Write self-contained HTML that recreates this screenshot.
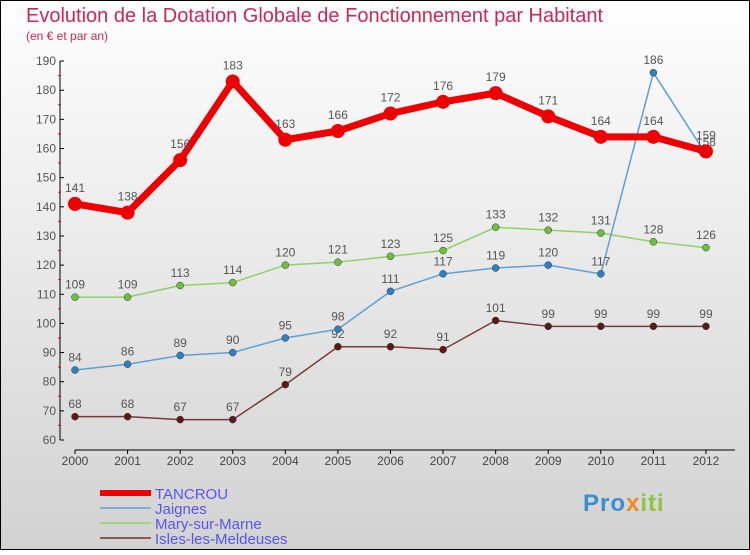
<!DOCTYPE html>
<html><head><meta charset="utf-8"><style>
body{margin:0;width:750px;height:550px;overflow:hidden}
svg text{font-family:"Liberation Sans",sans-serif}
</style></head><body>
<svg width="750" height="550" xmlns="http://www.w3.org/2000/svg">
<defs><linearGradient id="bg" x1="0" y1="0" x2="0" y2="1"><stop offset="0" stop-color="#fefefe"/><stop offset="1" stop-color="#d2d2d2"/></linearGradient></defs>
<rect x="0.5" y="0.5" width="749" height="549" fill="url(#bg)" stroke="#000"/>
<text x="26" y="22" font-size="20" fill="#c8285a">Evolution de la Dotation Globale de Fonctionnement par Habitant</text>
<text x="26" y="40" font-size="12" fill="#c8285a">(en € et par an)</text>
<g id="axes"></g><g id="series"></g><g id="legend"></g>
</svg>
<script>
const years=[2000,2001,2002,2003,2004,2005,2006,2007,2008,2009,2010,2011,2012];
const yTicks=[60,70,80,90,100,110,120,130,140,150,160,170,180,190];
const tancrou=[141,138,156,183,163,166,172,176,179,171,164,164,159];
const jaignes=[84,86,89,90,95,98,111,117,119,120,117,186,158];
const mary=[109,109,113,114,120,121,123,125,133,132,131,128,126];
const isles=[68,68,67,67,79,92,92,91,101,99,99,99,99];
const NS="http://www.w3.org/2000/svg";
const X=i=>75+i*52.58;
const Y=v=>440-(v-60)*29.15/10;
function mk(tag,attrs,parent,text){const e=document.createElementNS(NS,tag);for(const k in attrs)e.setAttribute(k,attrs[k]);if(text!==undefined)e.textContent=text;parent.appendChild(e);return e;}
const ax=document.getElementById('axes');
let e=mk('line',{x1:60,y1:Y(190),x2:60,y2:Y(60),stroke:'#000'},ax);


e=mk('line',{x1:75,y1:450,x2:735,y2:450,stroke:'#000'},ax);


yTicks.forEach(v=>{
 mk('line',{x1:60,y1:Y(v),x2:64,y2:Y(v),stroke:'#000'},ax);
 if(v<190) mk('line',{x1:58,y1:Y(v+5),x2:61,y2:Y(v+5),stroke:'#e00'},ax);
 const t=mk('text',{x:56,y:Y(v)+4,'font-size':12,fill:'#555','text-anchor':'end'},ax,v);
 
 
});
years.forEach((yr,i)=>{
 mk('line',{x1:X(i),y1:450,x2:X(i),y2:454,stroke:'#000'},ax);
 const t=mk('text',{x:X(i),y:465,'font-size':12,fill:'#444','text-anchor':'middle'},ax,yr);
 
 
});
const sg=document.getElementById('series');
function series(vals,name,color,dot,w,r,labelBelow){
 const g=mk('g',{},sg);
 
 
 mk('polyline',{points:vals.map((v,i)=>X(i)+','+Y(v)).join(' '),fill:'none',stroke:color,'stroke-width':w,'stroke-linejoin':'round'},g);
 vals.forEach((v,i)=>{
  const c=mk('circle',{cx:X(i),cy:Y(v),r:r,fill:dot,stroke:dot==='#e00'?'none':'#333','stroke-width':0.5},g);
  
  
  const t=mk('text',{x:X(i),y:Y(v)-(r+5),'font-size':12,fill:'#555','text-anchor':'middle'},g,v);
  
  
 });
}
series(isles,'isles','#7a3a3a','#5a1a1a',1.5,3.5);
series(mary,'mary','#8fd06a','#6cc040',1.5,3.5);
series(jaignes,'jaignes','#5ea0d0','#3080c0',1.5,3.5);
series(tancrou,'tancrou','#e00','#e00',7,7);
const lg=document.getElementById('legend');
const leg=[['TANCROU','#e00',6],['Jaignes','#7fb0d8',2],['Mary-sur-Marne','#9bd67a',2],['Isles-les-Meldeuses','#8a5a5a',2]];
leg.forEach((l,i)=>{
 const y=493+i*15;
 const g=mk('g',{},lg);
 
 
 mk('line',{x1:100,y1:y,x2:151,y2:y,stroke:l[1],'stroke-width':l[2]},g);
 mk('text',{x:155,y:y+6,'font-size':15,fill:'#5555ee'},g,l[0]);
});
</script>
<div style="position:absolute;left:583px;top:490px;font:bold 24px 'Liberation Sans',sans-serif;letter-spacing:1px"><span style="color:#3a8fd0">Pro</span><span style="color:#f08a20">x</span><span style="color:#8cc63f">iti</span></div>
</body></html>
